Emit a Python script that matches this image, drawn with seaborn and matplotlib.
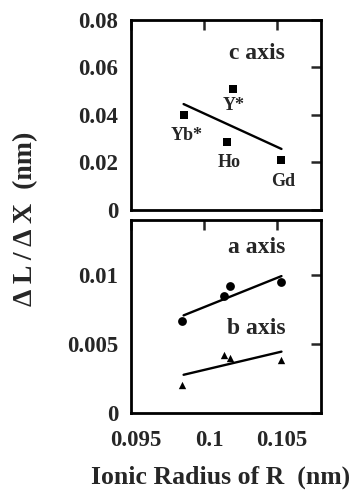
import pandas as pd
import matplotlib
matplotlib.use("Agg")
import matplotlib.pyplot as plt
import matplotlib.transforms as mtransforms
import seaborn as sns

# c axis (top panel)
c_labels = ["Yb*", "Ho", "Y*", "Gd"]
c_radius = [0.0986, 0.1016, 0.1020, 0.1053]
c_slope = [0.0400, 0.0286, 0.0510, 0.0210]
c_fit_x = [0.0986, 0.1053]
c_fit_y = [0.0446, 0.0257]

# a axis / b axis (bottom panel)
ab_radius = [0.0985, 0.1014, 0.1018, 0.1053]
a_slope = [0.00664, 0.00847, 0.00920, 0.00950]
b_slope = [0.00204, 0.00423, 0.00400, 0.00387]
a_fit_y = [0.00708, 0.00993]
b_fit_y = [0.00277, 0.00445]
fit_x = [0.0986, 0.1053]

label_offsets = {"Yb*": (0.0002, -0.0085), "Ho": (0.0001, -0.0085),
                 "Y*": (0.0000, -0.0072), "Gd": (0.0001, -0.0088)}


def style_axis(ax):
    ax.tick_params(direction="in", length=7, width=1.8, top=True, right=True,
                   labelsize=16.5)
    ax.tick_params(axis="y", pad=9)
    ax.tick_params(axis="x", pad=12)
    for sp in ax.spines.values():
        sp.set_linewidth(2)
        sp.set_color("black")
    for lab in ax.get_xticklabels() + ax.get_yticklabels():
        lab.set_fontweight("bold")


def main():
    sns.set_style("white")
    plt.rcParams["font.family"] = ["Liberation Serif", "DejaVu Serif"]
    plt.rcParams["font.weight"] = "bold"

    fig = plt.figure(figsize=(3.55, 4.95), dpi=100)
    ax1 = fig.add_axes([0.369, 0.5758, 0.535, 0.3838])
    ax2 = fig.add_axes([0.369, 0.1657, 0.535, 0.3899])

    # top panel
    top = pd.DataFrame({"r": c_radius, "v": c_slope, "lab": c_labels})
    sns.scatterplot(data=top, x="r", y="v", marker="s", s=32, color="black",
                    edgecolor="black", linewidth=0, ax=ax1)
    sns.lineplot(x=c_fit_x, y=c_fit_y, color="black", linewidth=1.7, ax=ax1)
    for r, v, lab in zip(c_radius, c_slope, c_labels):
        dx, dy = label_offsets[lab]
        ax1.text(r + dx, v + dy, lab, ha="center", va="center",
                 fontsize=13, fontweight="bold")
    ax1.text(0.1036, 0.0658, "c axis", ha="center", va="center",
             fontsize=17, fontweight="bold")
    ax1.set_xlim(0.095, 0.108)
    ax1.set_ylim(0, 0.08)
    ax1.set_xticks([0.095, 0.1, 0.105])
    ax1.set_yticks([0, 0.02, 0.04, 0.06, 0.08])
    ax1.set_yticklabels(["0", "0.02", "0.04", "0.06", "0.08"])
    ax1.tick_params(labelbottom=False)
    ax1.set_xlabel("")
    ax1.set_ylabel("")
    style_axis(ax1)

    # bottom panel
    bot = pd.DataFrame({"r": ab_radius, "a": a_slope, "b": b_slope})
    sns.scatterplot(data=bot, x="r", y="a", marker="o", s=40, color="black",
                    edgecolor="black", linewidth=0, ax=ax2)
    sns.scatterplot(data=bot, x="r", y="b", marker="^", s=28, color="black",
                    edgecolor="black", linewidth=0, ax=ax2)
    sns.lineplot(x=fit_x, y=a_fit_y, color="black", linewidth=1.7, ax=ax2)
    sns.lineplot(x=fit_x, y=b_fit_y, color="black", linewidth=1.7, ax=ax2)
    ax2.text(0.1036, 0.0120, "a axis", ha="center", va="center",
             fontsize=17, fontweight="bold")
    ax2.text(0.1036, 0.0061, "b axis", ha="center", va="center",
             fontsize=17, fontweight="bold")
    ax2.set_xlim(0.095, 0.108)
    ax2.set_ylim(0, 0.014)
    ax2.set_xticks([0.095, 0.1, 0.105])
    ax2.set_xticklabels(["0.095", "0.1", "0.105"])
    ax2.set_yticks([0, 0.005, 0.01])
    ax2.set_yticklabels(["0", "0.005", "0.01"])
    ax2.set_xlabel("")
    ax2.set_ylabel("")
    style_axis(ax2)

    # x tick labels sit a little right of their ticks in the original
    shift = mtransforms.ScaledTranslation(5 / 100, 0, fig.dpi_scale_trans)
    for lab in ax2.get_xticklabels():
        lab.set_transform(lab.get_transform() + shift)

    fig.text(0.62, 0.036, "Ionic Radius of R  (nm)", ha="center",
             va="center", fontsize=18.5, fontweight="bold")
    fig.text(0.072, 0.558, "\u0394 L / \u0394 X  (nm)", rotation=90,
             ha="center", va="center", fontsize=20, fontweight="bold")

    fig.savefig("out.png", dpi=100)
    plt.close(fig)


if __name__ == "__main__":
    main()
